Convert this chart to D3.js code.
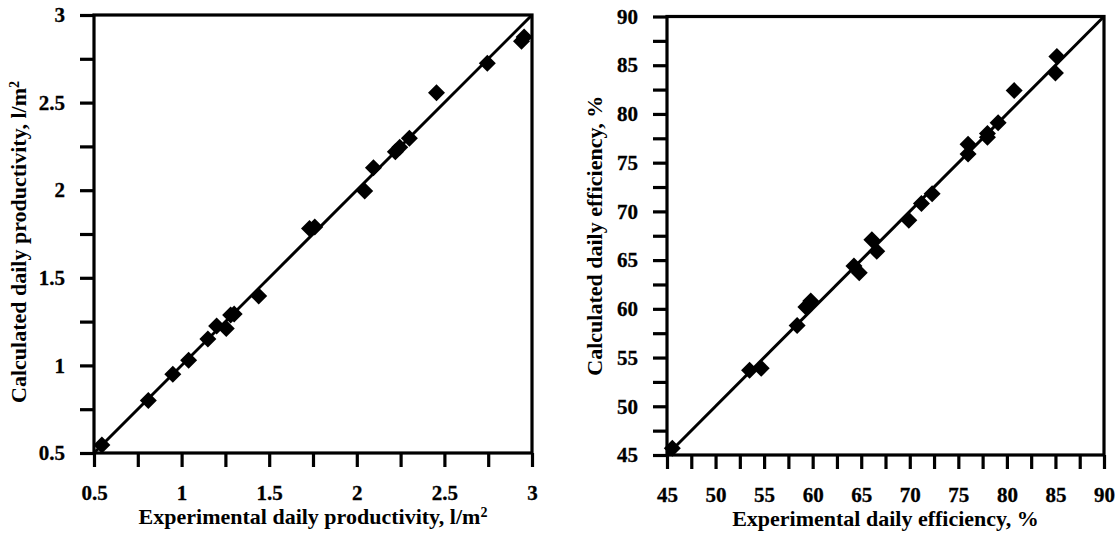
<!DOCTYPE html>
<html>
<head>
<meta charset="utf-8">
<script src="https://cdn.jsdelivr.net/npm/d3@7"></script>
<style>
  html, body { margin: 0; padding: 0; background: #fff; }
  svg text { font-family: "Liberation Serif", "Times New Roman", serif; font-weight: 700; fill: #000; }
</style>
</head>
<body>
<svg id="chart" width="1119" height="535"></svg>
<script>
// ---- Data: left panel (daily productivity, l/m2) ----
const prodExperimental = [0.545, 0.81, 0.95, 1.04, 1.15, 1.20, 1.255, 1.28, 1.30, 1.44, 1.73, 1.76, 2.045, 2.095, 2.22, 2.245, 2.30, 2.455, 2.745, 2.94, 2.955];
const prodCalculated   = [0.546, 0.80, 0.95, 1.03, 1.15, 1.225, 1.21, 1.288, 1.293, 1.396, 1.782, 1.79, 1.995, 2.128, 2.22, 2.245, 2.296, 2.556, 2.724, 2.85, 2.875];
const prodTicks = [0.5, 1, 1.5, 2, 2.5, 3];
const prodMinorTicks = [0.75, 1.25, 1.75, 2.25, 2.75];

// ---- Data: right panel (daily efficiency, %) ----
const effExperimental = [45.55, 53.5, 54.7, 58.4, 59.3, 59.8, 64.25, 64.8, 66.1, 66.6, 69.9, 71.2, 72.3, 76.0, 76.0, 78.0, 78.0, 79.1, 80.75, 85.0, 85.15];
const effCalculated   = [45.7, 53.7, 53.9, 58.3, 60.2, 60.8, 64.4, 63.7, 67.1, 65.9, 69.1, 70.8, 71.8, 76.9, 75.9, 78.0, 77.6, 79.1, 82.4, 84.2, 85.9];
const effTicks = [45, 50, 55, 60, 65, 70, 75, 80, 85, 90];
const effMinorTicks = [47.5, 52.5, 57.5, 62.5, 67.5, 72.5, 77.5, 82.5, 87.5];

const svg = d3.select("#chart");

function panel(opt) {
  const x = d3.scaleLinear().domain(opt.domain).range([opt.left, opt.right]);
  const y = d3.scaleLinear().domain(opt.domain).range([opt.bottom, opt.top]);
  const g = svg.append("g");
  const allTicks = opt.ticks.concat(opt.minor).sort((a, b) => a - b);
  const fmt = v => opt.ticks.includes(v) ? d3.format(opt.fmt)(v) : "";

  const xa = g.append("g").attr("transform", `translate(0,${opt.bottom})`)
    .call(d3.axisBottom(x).tickValues(allTicks).tickFormat(fmt).tickSize(14).tickSizeOuter(0).tickPadding(18));
  const ya = g.append("g").attr("transform", `translate(${opt.left},0)`)
    .call(d3.axisLeft(y).tickValues(allTicks).tickFormat(fmt).tickSize(14).tickSizeOuter(0).tickPadding(15));
  [xa, ya].forEach(a => {
    a.attr("font-family", null).attr("font-size", null);
    a.select(".domain").remove();
    a.selectAll(".tick line").attr("stroke", "#000").attr("stroke-width", 3.2);
    a.selectAll(".tick text")
      .attr("font-weight", "700")
      .style("font-size", "21px").style("font-weight", "700")
      .style("font-family", "'Liberation Serif', serif")
      .style("stroke", "#000").style("stroke-width", 0.3)
      .attr("fill", "#000");
  });

  g.append("rect")
    .attr("x", opt.left).attr("y", opt.top)
    .attr("width", opt.right - opt.left).attr("height", opt.bottom - opt.top)
    .attr("fill", "none").attr("stroke", "#000").attr("stroke-width", 3.2);

  g.append("line")
    .attr("x1", x(opt.domain[0])).attr("y1", y(opt.domain[0]))
    .attr("x2", x(opt.domain[1])).attr("y2", y(opt.domain[1]))
    .attr("stroke", "#000").attr("stroke-width", 3);

  const r = 8.5;
  const diamond = `M0,${-r}L${r},0L0,${r}L${-r},0Z`;
  g.selectAll("path.pt").data(opt.xs.map((v, i) => [v, opt.ys[i]]))
    .join("path").attr("class", "pt")
    .attr("d", diamond)
    .attr("transform", d => `translate(${x(d[0])},${y(d[1])})`)
    .attr("fill", "#000");

  const xt = g.append("text")
    .attr("x", (opt.left + opt.right) / 2).attr("y", opt.bottom + 71)
    .attr("text-anchor", "middle").style("font-size", "22px")
    .text(opt.xTitle);
  if (opt.sup) xt.append("tspan").attr("baseline-shift", "super").style("font-size", "14px").text(opt.sup);

  const cy = (opt.top + opt.bottom) / 2 + opt.yTitleShift;
  const yt = g.append("text")
    .attr("transform", `translate(${opt.left - opt.yTitleOffset},${cy}) rotate(-90)`)
    .attr("text-anchor", "middle").style("font-size", "22px")
    .text(opt.yTitle);
  if (opt.sup) yt.append("tspan").attr("baseline-shift", "super").style("font-size", "14px").text(opt.sup);
}

panel({
  domain: [0.5, 3], ticks: prodTicks, minor: prodMinorTicks, fmt: "~g",
  left: 94, right: 532, top: 15, bottom: 453,
  xs: prodExperimental, ys: prodCalculated,
  xTitle: "Experimental daily productivity, l/m", yTitle: "Calculated daily productivity, l/m", sup: "2",
  yTitleOffset: 68, yTitleShift: 8
});

panel({
  domain: [45, 90], ticks: effTicks, minor: effMinorTicks, fmt: "~g",
  left: 667, right: 1104, top: 16.5, bottom: 455,
  xs: effExperimental, ys: effCalculated,
  xTitle: "Experimental daily efficiency, %", yTitle: "Calculated daily efficiency, %", sup: null,
  yTitleOffset: 65, yTitleShift: 0
});
</script>
</body>
</html>
